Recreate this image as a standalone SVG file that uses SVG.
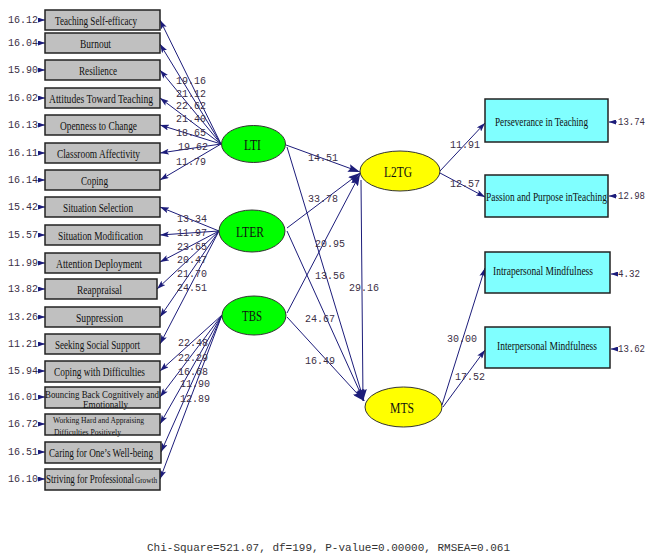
<svg xmlns="http://www.w3.org/2000/svg" width="647" height="556" viewBox="0 0 647 556">
<defs>
<marker id="ms" markerWidth="7" markerHeight="5" refX="7" refY="2.5" orient="auto" markerUnits="userSpaceOnUse"><path d="M0,0 L7,2.5 L0,5 Z" fill="#1c1c7a"/></marker>
<marker id="am" markerWidth="9" markerHeight="6" refX="9" refY="3" orient="auto" markerUnits="userSpaceOnUse"><path d="M0,0 L9,3 L0,6 L2,3 Z" fill="#1c1c7a"/></marker>
<marker id="al" markerWidth="12" markerHeight="8" refX="12" refY="4" orient="auto" markerUnits="userSpaceOnUse"><path d="M0,0 L12,4 L0,8 L2,4 Z" fill="#1c1c7a"/></marker>
</defs>
<style>
.box{fill:#c0c0c0;stroke:#222;stroke-width:1.5}
.cbox{fill:#80ffff;stroke:#222;stroke-width:1.5}
.gr{fill:#00ff00;stroke:#333;stroke-width:1}
.ye{fill:#ffff00;stroke:#333;stroke-width:1}
.bt{font-family:"Liberation Serif","Times New Roman",serif;font-size:13.5px;fill:#111}
.lt{font-family:"Liberation Serif","Times New Roman",serif;font-size:15px;fill:#111}
.num{font-family:"Liberation Mono","Courier New",monospace;font-size:10px;fill:#3c2f45}
.ln{stroke:#1c1c7a;stroke-width:1;fill:none}
.foot{font-family:"Liberation Mono","Courier New",monospace;font-size:11px;fill:#333}
</style>
<rect width="647" height="556" fill="#fff"/>

<g id="connectors">
<!-- LTI loadings -->
<line class="ln" x1="221" y1="144" x2="160" y2="20" marker-end="url(#am)"/>
<line class="ln" x1="221" y1="144" x2="160" y2="44" marker-end="url(#am)"/>
<line class="ln" x1="221" y1="144" x2="160" y2="70" marker-end="url(#am)"/>
<line class="ln" x1="221" y1="144" x2="160" y2="98" marker-end="url(#am)"/>
<line class="ln" x1="221" y1="144" x2="160" y2="125" marker-end="url(#am)"/>
<line class="ln" x1="221" y1="144" x2="160" y2="153" marker-end="url(#am)"/>
<line class="ln" x1="221" y1="144" x2="160" y2="180" marker-end="url(#am)"/>
<!-- LTER loadings -->
<line class="ln" x1="219" y1="231" x2="160" y2="207" marker-end="url(#am)"/>
<line class="ln" x1="219" y1="231" x2="160" y2="235" marker-end="url(#am)"/>
<line class="ln" x1="219" y1="231" x2="160" y2="262" marker-end="url(#am)"/>
<line class="ln" x1="219" y1="231" x2="157" y2="289" marker-end="url(#am)"/>
<line class="ln" x1="219" y1="231" x2="160" y2="317" marker-end="url(#am)"/>
<line class="ln" x1="219" y1="231" x2="160" y2="344" marker-end="url(#am)"/>
<!-- TBS loadings -->
<line class="ln" x1="222" y1="315" x2="160" y2="371" marker-end="url(#am)"/>
<line class="ln" x1="222" y1="315" x2="160" y2="397" marker-end="url(#am)"/>
<line class="ln" x1="222" y1="315" x2="160" y2="424" marker-end="url(#am)"/>
<line class="ln" x1="222" y1="315" x2="161" y2="452" marker-end="url(#am)"/>
<line class="ln" x1="222" y1="315" x2="160" y2="479" marker-end="url(#am)"/>
<!-- left error arrows -->
<line class="ln" x1="38" y1="20" x2="45" y2="20" marker-end="url(#ms)"/>
<line class="ln" x1="38" y1="43" x2="45" y2="43" marker-end="url(#ms)"/>
<line class="ln" x1="38" y1="70" x2="45" y2="70" marker-end="url(#ms)"/>
<line class="ln" x1="38" y1="98" x2="45" y2="98" marker-end="url(#ms)"/>
<line class="ln" x1="38" y1="125" x2="45" y2="125" marker-end="url(#ms)"/>
<line class="ln" x1="38" y1="153" x2="45" y2="153" marker-end="url(#ms)"/>
<line class="ln" x1="38" y1="180" x2="45" y2="180" marker-end="url(#ms)"/>
<line class="ln" x1="38" y1="207" x2="45" y2="207" marker-end="url(#ms)"/>
<line class="ln" x1="38" y1="235" x2="45" y2="235" marker-end="url(#ms)"/>
<line class="ln" x1="38" y1="263" x2="45" y2="263" marker-end="url(#ms)"/>
<line class="ln" x1="38" y1="289" x2="45" y2="289" marker-end="url(#ms)"/>
<line class="ln" x1="38" y1="317" x2="45" y2="317" marker-end="url(#ms)"/>
<line class="ln" x1="38" y1="344" x2="45" y2="344" marker-end="url(#ms)"/>
<line class="ln" x1="38" y1="371" x2="45" y2="371" marker-end="url(#ms)"/>
<line class="ln" x1="38" y1="397" x2="45" y2="397" marker-end="url(#ms)"/>
<line class="ln" x1="38" y1="424" x2="45" y2="424" marker-end="url(#ms)"/>
<line class="ln" x1="38" y1="452" x2="45" y2="452" marker-end="url(#ms)"/>
<line class="ln" x1="38" y1="479" x2="45" y2="479" marker-end="url(#ms)"/>
<!-- structural -->
<line class="ln" x1="286" y1="145" x2="360" y2="172" marker-end="url(#al)"/>
<line class="ln" x1="287" y1="228" x2="360" y2="173" marker-end="url(#al)"/>
<line class="ln" x1="287" y1="313" x2="360" y2="174" marker-end="url(#al)"/>
<line class="ln" x1="287" y1="147" x2="364" y2="401" marker-end="url(#al)"/>
<line class="ln" x1="287" y1="231" x2="364" y2="401" marker-end="url(#al)"/>
<line class="ln" x1="287" y1="317" x2="364" y2="401" marker-end="url(#al)"/>
<line class="ln" x1="361" y1="180" x2="363" y2="401" marker-end="url(#al)"/>
<line class="ln" x1="440" y1="171" x2="485" y2="123" marker-end="url(#am)"/>
<line class="ln" x1="440" y1="173" x2="485" y2="197" marker-end="url(#am)"/>
<line class="ln" x1="442" y1="405" x2="485" y2="268" marker-end="url(#am)"/>
<line class="ln" x1="443" y1="407" x2="485" y2="350" marker-end="url(#am)"/>
<!-- right error arrows -->
<line class="ln" x1="617" y1="122" x2="609" y2="122" marker-end="url(#ms)"/>
<line class="ln" x1="617" y1="196" x2="609" y2="196" marker-end="url(#ms)"/>
<line class="ln" x1="617" y1="274" x2="611" y2="274" marker-end="url(#ms)"/>
<line class="ln" x1="617" y1="349" x2="611" y2="349" marker-end="url(#ms)"/>
</g>

<g id="labels">
<text class="num" x="176" y="84">19.16</text>
<text class="num" x="176" y="97">21.12</text>
<text class="num" x="176" y="109">22.62</text>
<text class="num" x="176" y="122">21.40</text>
<text class="num" x="176" y="136">18.65</text>
<text class="num" x="178" y="150">19.62</text>
<text class="num" x="176" y="165">11.79</text>
<text class="num" x="177" y="222">13.34</text>
<text class="num" x="177" y="236">11.97</text>
<text class="num" x="177" y="250">23.65</text>
<text class="num" x="177" y="263">20.47</text>
<text class="num" x="177" y="277">21.70</text>
<text class="num" x="177" y="291">24.51</text>
<text class="num" x="178" y="346">22.48</text>
<text class="num" x="178" y="361">22.29</text>
<text class="num" x="178" y="375">16.68</text>
<text class="num" x="180" y="387">11.90</text>
<text class="num" x="180" y="402">12.89</text>
<text class="num" x="308" y="161">14.51</text>
<text class="num" x="308" y="202">33.78</text>
<text class="num" x="315" y="247">20.95</text>
<text class="num" x="315" y="279">13.56</text>
<text class="num" x="349" y="291">29.16</text>
<text class="num" x="305" y="322">24.67</text>
<text class="num" x="305" y="364">16.49</text>
<text class="num" x="450" y="148">11.91</text>
<text class="num" x="450" y="187">12.57</text>
<text class="num" x="447" y="342">30.00</text>
<text class="num" x="455" y="380">17.52</text>
<!-- errors -->
<text class="num" x="8" y="23">16.12</text>
<text class="num" x="8" y="46">16.04</text>
<text class="num" x="8" y="73">15.90</text>
<text class="num" x="8" y="101">16.02</text>
<text class="num" x="8" y="128">16.13</text>
<text class="num" x="8" y="156">16.11</text>
<text class="num" x="8" y="183">16.14</text>
<text class="num" x="8" y="210">15.42</text>
<text class="num" x="8" y="238">15.57</text>
<text class="num" x="8" y="266">11.99</text>
<text class="num" x="8" y="292">13.82</text>
<text class="num" x="8" y="320">13.26</text>
<text class="num" x="8" y="347">11.21</text>
<text class="num" x="8" y="374">15.94</text>
<text class="num" x="8" y="400">16.01</text>
<text class="num" x="8" y="427">16.72</text>
<text class="num" x="8" y="455">16.51</text>
<text class="num" x="8" y="482">16.10</text>
<text class="num" x="618" y="125" textLength="27" lengthAdjust="spacingAndGlyphs">13.74</text>
<text class="num" x="618" y="199" textLength="27" lengthAdjust="spacingAndGlyphs">12.98</text>
<text class="num" x="618" y="277" textLength="22" lengthAdjust="spacingAndGlyphs">4.32</text>
<text class="num" x="618" y="352" textLength="27" lengthAdjust="spacingAndGlyphs">13.62</text>
</g>

<g id="n-tse"><rect class="box" x="45" y="10" width="115" height="20"/><text class="bt" x="55" y="25" textLength="82" lengthAdjust="spacingAndGlyphs">Teaching Self-efficacy</text></g>
<g id="n-burnout"><rect class="box" x="45" y="33" width="115" height="20"/><text class="bt" x="80" y="47.5" textLength="31" lengthAdjust="spacingAndGlyphs">Burnout</text></g>
<g id="n-resilience"><rect class="box" x="45" y="60" width="115" height="20"/><text class="bt" x="79" y="74.5" textLength="38" lengthAdjust="spacingAndGlyphs">Resilience</text></g>
<g id="n-attitudes"><rect class="box" x="45" y="88" width="115" height="20"/><text class="bt" x="49" y="102.5" textLength="104" lengthAdjust="spacingAndGlyphs">Attitudes Toward Teaching</text></g>
<g id="n-openness"><rect class="box" x="45" y="115" width="115" height="20"/><text class="bt" x="60" y="129.5" textLength="77" lengthAdjust="spacingAndGlyphs">Openness to Change</text></g>
<g id="n-classroom"><rect class="box" x="45" y="143" width="115" height="20"/><text class="bt" x="57" y="157.5" textLength="83" lengthAdjust="spacingAndGlyphs">Classroom Affectivity</text></g>
<g id="n-coping"><rect class="box" x="45" y="170" width="115" height="20"/><text class="bt" x="81" y="184.5" textLength="27" lengthAdjust="spacingAndGlyphs">Coping</text></g>
<g id="n-sitsel"><rect class="box" x="45" y="197" width="115" height="20"/><text class="bt" x="63" y="211.5" textLength="70" lengthAdjust="spacingAndGlyphs">Situation Selection</text></g>
<g id="n-sitmod"><rect class="box" x="45" y="225" width="115" height="20"/><text class="bt" x="58" y="239.5" textLength="85" lengthAdjust="spacingAndGlyphs">Situation Modification</text></g>
<g id="n-attdep"><rect class="box" x="45" y="253" width="115" height="20"/><text class="bt" x="56" y="267.5" textLength="86" lengthAdjust="spacingAndGlyphs">Attention Deployment</text></g>
<g id="n-reappraisal"><rect class="box" x="45" y="279" width="112" height="20"/><text class="bt" x="77" y="293.5" textLength="45" lengthAdjust="spacingAndGlyphs">Reappraisal</text></g>
<g id="n-suppression"><rect class="box" x="45" y="307" width="115" height="20"/><text class="bt" x="76" y="321.5" textLength="47" lengthAdjust="spacingAndGlyphs">Suppression</text></g>
<g id="n-seeking"><rect class="box" x="45" y="334" width="115" height="20"/><text class="bt" x="55" y="348.5" textLength="85" lengthAdjust="spacingAndGlyphs">Seeking Social Support</text></g>
<g id="n-copingdiff"><rect class="box" x="45" y="361" width="115" height="21"/><text class="bt" x="54" y="376" textLength="91" lengthAdjust="spacingAndGlyphs">Coping with Difficulties</text></g>
<g id="n-bouncing"><rect class="box" x="45" y="387" width="115" height="21"/><text class="bt" style="font-size:11px" x="45" y="398" textLength="114" lengthAdjust="spacingAndGlyphs">Bouncing Back Cognitively and</text><text class="bt" style="font-size:11px" x="83" y="407.5" textLength="45" lengthAdjust="spacingAndGlyphs">Emotionally</text></g>
<g id="n-working"><rect class="box" x="45" y="414" width="115" height="21"/><text class="bt" style="font-size:9px" x="53" y="423" textLength="91" lengthAdjust="spacingAndGlyphs">Working Hard and Appraising</text><text class="bt" style="font-size:9px" x="54" y="435" textLength="67" lengthAdjust="spacingAndGlyphs">Difficulties Positively</text></g>
<g id="n-caring"><rect class="box" x="45" y="442" width="116" height="21"/><text class="bt" x="49" y="457" textLength="104" lengthAdjust="spacingAndGlyphs">Caring for One’s Well-being</text></g>
<g id="n-striving"><rect class="box" x="45" y="469" width="115" height="21"/><text class="bt" style="font-size:12px" x="46" y="482.5" textLength="88" lengthAdjust="spacingAndGlyphs">Striving for Professional</text><text class="bt" style="font-size:9px" x="135" y="482.5" textLength="22" lengthAdjust="spacingAndGlyphs">Growth</text></g>

<g id="n-lti"><ellipse class="gr" cx="253.5" cy="144" rx="32" ry="18.5"/><text class="lt" x="244" y="149.5" textLength="17" lengthAdjust="spacingAndGlyphs">LTI</text></g>
<g id="n-lter"><ellipse class="gr" cx="252" cy="231" rx="33" ry="21"/><text class="lt" x="236" y="236.5" textLength="28" lengthAdjust="spacingAndGlyphs">LTER</text></g>
<g id="n-tbs"><ellipse class="gr" cx="254" cy="315.5" rx="32" ry="19.5"/><text class="lt" x="242" y="321" textLength="20" lengthAdjust="spacingAndGlyphs">TBS</text></g>
<g id="n-l2tg"><ellipse class="ye" cx="400" cy="171" rx="40" ry="20"/><text class="lt" x="384" y="176.5" textLength="28" lengthAdjust="spacingAndGlyphs">L2TG</text></g>
<g id="n-mts"><ellipse class="ye" cx="403.5" cy="407" rx="38.5" ry="20"/><text class="lt" x="390" y="412.5" textLength="24" lengthAdjust="spacingAndGlyphs">MTS</text></g>

<g id="n-perseverance"><rect class="cbox" x="485" y="99" width="123" height="43"/><text class="bt" style="font-size:12.5px" x="495" y="125.5" textLength="93" lengthAdjust="spacingAndGlyphs">Perseverance in Teaching</text></g>
<g id="n-passion"><rect class="cbox" x="485" y="175" width="123" height="42"/><text class="bt" style="font-size:12.5px" x="486" y="200.5" textLength="121" lengthAdjust="spacingAndGlyphs">Passion and Purpose inTeaching</text></g>
<g id="n-intra"><rect class="cbox" x="485" y="252" width="125" height="41"/><text class="bt" style="font-size:12.5px" x="493" y="275" textLength="100" lengthAdjust="spacingAndGlyphs">Intrapersonal Mindfulness</text></g>
<g id="n-inter"><rect class="cbox" x="485" y="327" width="125" height="41"/><text class="bt" style="font-size:12.5px" x="497" y="350" textLength="100" lengthAdjust="spacingAndGlyphs">Interpersonal Mindfulness</text></g>

<text class="foot" x="147" y="551">Chi-Square=521.07, df=199, P-value=0.00000, RMSEA=0.061</text>
</svg>
